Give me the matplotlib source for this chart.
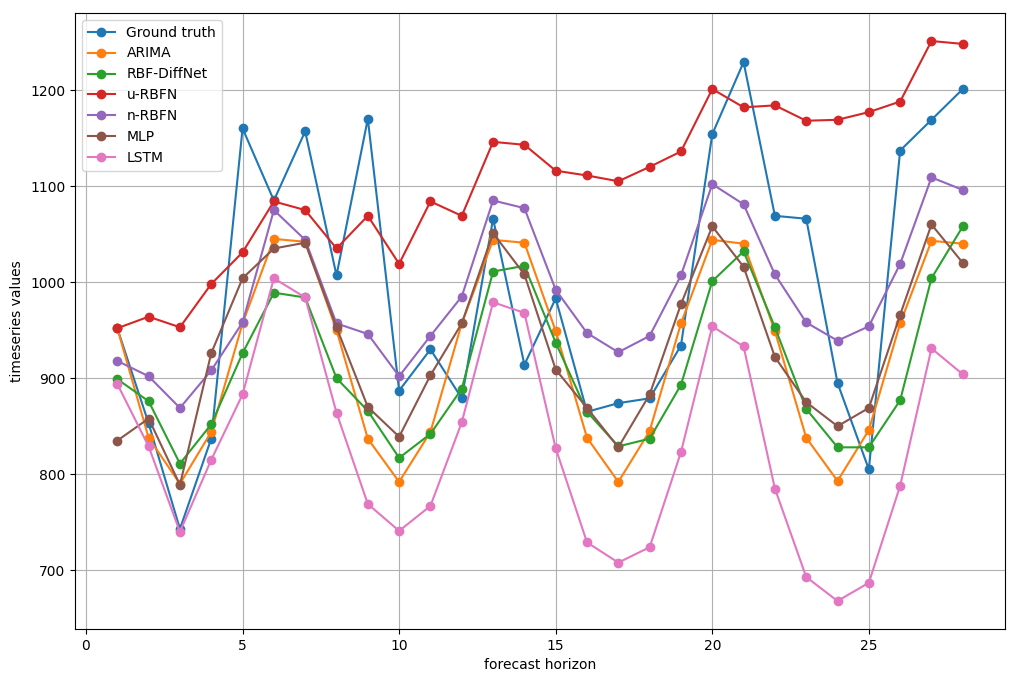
import numpy as np
import matplotlib
matplotlib.use("Agg")
import matplotlib.pyplot as plt

# forecast horizon steps
horizon = list(range(1, 29))

ground_truth = [952, 853, 743, 837, 1160, 1085, 1157, 1007, 1170, 887, 930, 879, 1066, 914,
                983, 865, 874, 879, 934, 1154, 1229, 1069, 1066, 895, 805, 1137, 1169, 1201]
arima = [952, 838, 790, 844, 957, 1045, 1042, 950, 837, 792, 844, 957, 1044, 1041,
         949, 838, 792, 845, 957, 1044, 1040, 949, 838, 793, 846, 957, 1043, 1040]
rbf_diffnet = [899, 876, 811, 852, 926, 989, 984, 900, 866, 817, 842, 889, 1011, 1017,
               937, 865, 829, 837, 893, 1001, 1032, 953, 868, 828, 828, 877, 1004, 1058]
u_rbfn = [952, 964, 953, 998, 1031, 1084, 1075, 1035, 1069, 1019, 1084, 1069, 1146, 1143,
          1116, 1111, 1105, 1120, 1136, 1201, 1182, 1184, 1168, 1169, 1177, 1188, 1251, 1248]
n_rbfn = [918, 902, 869, 908, 958, 1075, 1044, 957, 946, 902, 944, 985, 1085, 1077,
          992, 947, 927, 944, 1007, 1102, 1081, 1008, 958, 939, 954, 1019, 1109, 1096]
mlp = [835, 858, 789, 926, 1004, 1035, 1041, 953, 870, 839, 903, 957, 1051, 1008,
       909, 869, 828, 883, 977, 1058, 1016, 922, 875, 850, 869, 966, 1060, 1020]
lstm = [894, 829, 740, 815, 883, 1004, 984, 864, 769, 741, 767, 854, 979, 968,
        827, 729, 708, 724, 823, 954, 933, 785, 693, 668, 687, 788, 931, 904]

series = [
    ("Ground truth", ground_truth),
    ("ARIMA", arima),
    ("RBF-DiffNet", rbf_diffnet),
    ("u-RBFN", u_rbfn),
    ("n-RBFN", n_rbfn),
    ("MLP", mlp),
    ("LSTM", lstm),
]

fig = plt.figure(figsize=(10.18, 6.82), dpi=100)
ax = fig.add_axes([0.0737, 0.0777, 0.9136, 0.9032])

for name, vals in series:
    ax.plot(horizon, vals, marker='o', label=name)

ax.set_xlabel("forecast horizon")
ax.set_ylabel("timeseries values")
ax.grid(True)
ax.legend(loc='upper left')

fig.savefig("out.png", dpi=100)
